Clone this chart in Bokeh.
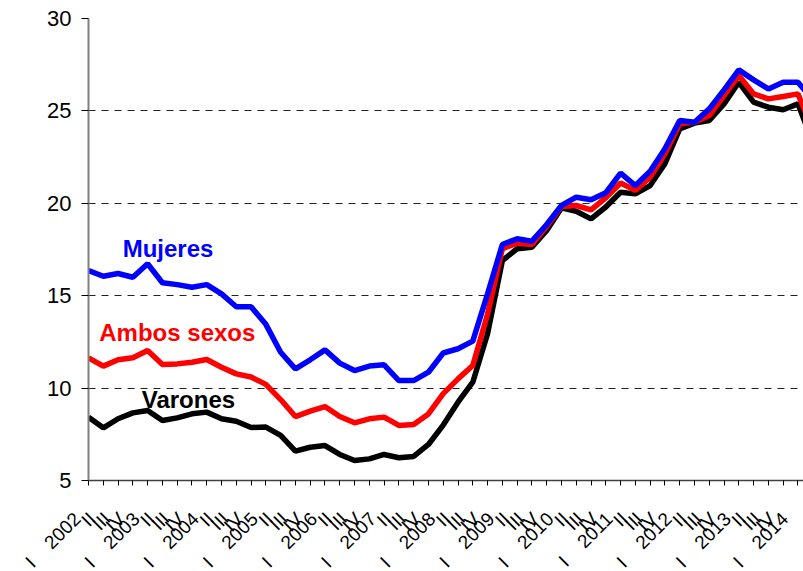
import math
from bokeh.plotting import figure
from bokeh.models import Range1d, FixedTicker, Label
from bokeh.embed import file_html
from bokeh.resources import INLINE

NB = "\u00a0"
years = [str(y) for y in range(2002, 2015)]
quarters = ["I", "II", "III", "IV"]
tick_labels = []
for y in years:
    for q in quarters:
        if q == "I":
            tick_labels.append("I" + NB * 4 + y + NB * 3)
        else:
            tick_labels.append(q + NB * 3)
tick_labels = tick_labels[:50]

mujeres = [16.36, 16.05, 16.2, 16.0, 16.73, 15.7, 15.6, 15.46, 15.6, 15.1,
           14.4, 14.4, 13.45, 11.94, 11.04, 11.53, 12.07, 11.35, 10.95, 11.19,
           11.26, 10.41, 10.41, 10.86, 11.9, 12.13, 12.54, 15.1, 17.77, 18.08,
           17.95, 18.85, 19.88, 20.33, 20.19, 20.57, 21.63, 20.96, 21.74, 22.95,
           24.48, 24.39, 25.11, 26.14, 27.22, 26.68, 26.19, 26.55, 26.55, 25.6]
ambos = [11.64, 11.19, 11.53, 11.64, 12.03, 11.28, 11.31, 11.4, 11.55, 11.13,
         10.77, 10.6, 10.2, 9.38, 8.46, 8.75, 9.0, 8.46, 8.12, 8.34,
         8.43, 7.98, 8.03, 8.6, 9.7, 10.5, 11.22, 14.0, 17.54, 17.84,
         17.77, 18.74, 19.83, 19.88, 19.65, 20.3, 21.1, 20.7, 21.41, 22.68,
         24.3, 24.39, 24.75, 25.83, 26.92, 25.92, 25.65, 25.78, 25.92, 24.0]
varones = [8.43, 7.85, 8.34, 8.66, 8.79, 8.25, 8.39, 8.61, 8.7, 8.34,
           8.21, 7.87, 7.89, 7.44, 6.59, 6.8, 6.89, 6.41, 6.08, 6.17,
           6.41, 6.23, 6.3, 6.95, 8.0, 9.24, 10.32, 12.94, 16.9, 17.54,
           17.62, 18.53, 19.75, 19.57, 19.16, 19.8, 20.6, 20.51, 20.96, 22.14,
           24.03, 24.34, 24.48, 25.38, 26.55, 25.47, 25.2, 25.06, 25.38, 23.3]

xs = list(range(len(mujeres)))
X_END = 715 / 14.78

p = figure(frame_width=715, frame_height=462, output_backend="svg",
           toolbar_location=None, min_border_left=88, min_border_top=18,
           min_border_right=0, min_border_bottom=91,
           x_range=Range1d(0, X_END), y_range=Range1d(5, 30))
p.outline_line_color = None
p.background_fill_color = "white"

p.xgrid.grid_line_color = None
p.ygrid.grid_line_color = "#222222"
p.ygrid.grid_line_dash = "7 6"
p.ygrid.grid_line_width = 1

p.yaxis.ticker = FixedTicker(ticks=[5, 10, 15, 20, 25, 30])
p.yaxis.axis_line_color = "#808080"
p.yaxis.axis_line_width = 2
p.yaxis.major_tick_line_color = "#000000"
p.yaxis.major_tick_out = 7
p.yaxis.major_tick_in = 0
p.yaxis.minor_tick_line_color = None
p.yaxis.major_label_text_font = "Liberation Sans"
p.yaxis.major_label_text_font_size = "22px"
p.yaxis.major_label_text_color = "#000000"
p.yaxis.major_label_standoff = 10

p.xaxis.ticker = FixedTicker(ticks=xs)
p.xaxis.major_label_overrides = {i: lab for i, lab in enumerate(tick_labels)}
p.xaxis.major_label_orientation = math.pi / 4
p.xaxis.axis_line_color = "#404040"
p.xaxis.axis_line_width = 1.5
p.xaxis.major_tick_line_color = "#000000"
p.xaxis.major_tick_out = 5
p.xaxis.major_tick_in = 0
p.xaxis.minor_tick_line_color = None
p.xaxis.major_label_text_font = "Liberation Sans"
p.xaxis.major_label_text_font_size = "19px"
p.xaxis.major_label_text_color = "#000000"
p.xaxis.major_label_standoff = 19

p.line(xs, varones, line_color="#000000", line_width=5.5)
p.line(xs, ambos, line_color="#FF0000", line_width=5.5)
p.line(xs, mujeres, line_color="#0000FF", line_width=5.5)

# label of the last tick, which lies just beyond the visible frame
p.add_layout(Label(x=xs[-1], y=5, text=tick_labels[-1].strip(NB),
                   angle=math.pi / 4,
                   text_font="Liberation Sans", text_font_size="19px",
                   text_color="#000000", text_align="right",
                   text_baseline="middle", x_offset=-17, y_offset=-32))

for txt, x, y, c in [("Mujeres", 2.31, 17.53, "#0000FF"),
                     ("Ambos sexos", 0.73, 13.02, "#FF0000"),
                     ("Varones", 3.6, 9.4, "#000000")]:
    p.add_layout(Label(x=x, y=y, text=txt, text_color=c,
                       text_font="Liberation Sans", text_font_style="bold",
                       text_font_size="24px", text_align="left",
                       text_baseline="alphabetic"))

open("out.html", "w").write(file_html(p, INLINE))
